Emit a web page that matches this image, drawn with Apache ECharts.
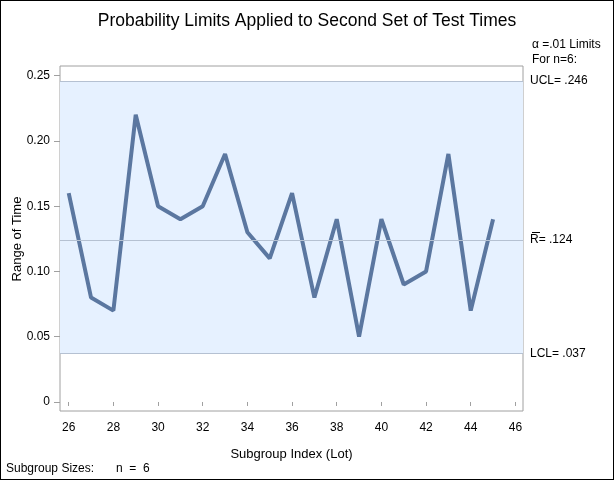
<!DOCTYPE html>
<html><head><meta charset="utf-8">
<script src="https://cdn.jsdelivr.net/npm/echarts@6/dist/echarts.min.js"></script>
<style>html,body{margin:0;padding:0;background:#fff}#c{width:614px;height:480px;box-sizing:border-box;border:1px solid #000}</style>
</head><body><div id="c"></div>
<script>
const lots = [26,27,28,29,30,31,32,33,34,35,36,37,38,39,40,41,42,43,44,45];
const ranges = [0.16,0.08,0.07,0.22,0.15,0.14,0.15,0.19,0.13,0.11,0.16,0.08,0.14,0.05,0.14,0.09,0.10,0.19,0.07,0.14];
const xTicks = [26,28,30,32,34,36,38,40,42,44,46];
const yTicks = [0,0.05,0.10,0.15,0.20,0.25];
const limits = {ucl:0.246, center:0.124, lcl:0.037};
const yName = 'Range of Time';
const font = 'Liberation Sans, Arial, sans-serif';
const chart = echarts.init(document.getElementById('c'), null, {renderer:'canvas'});
chart.setOption({
  animation:false,
  title:{text:'Probability Limits Applied to Second Set of Test Times',left:'center',top:6,
    textStyle:{fontFamily:font,fontSize:17.5,fontWeight:'normal',color:'#000'}},
  grid:{left:59,right:90,top:65,bottom:68,show:true,borderColor:'#a0a0a0',borderWidth:1,
    backgroundColor:'transparent',containLabel:false,outerBoundsMode:'none'},
  xAxis:{type:'value',min:25.61,max:46.34,
    name:'Subgroup Index (Lot)',nameLocation:'middle',nameGap:37,
    nameTextStyle:{fontFamily:font,fontSize:13,color:'#000'},
    axisLine:{show:false},
    axisTick:{show:true,length:4,lineStyle:{color:'#a0a0a0'},customValues:xTicks},
    axisLabel:{fontFamily:font,fontSize:12,color:'#000',margin:11,customValues:xTicks},
    splitLine:{show:false}},
  yAxis:{type:'value',min:-0.0069,max:0.2574,
    axisLine:{show:false},
    axisTick:{show:true,length:6,lineStyle:{color:'#a0a0a0'},customValues:yTicks},
    axisLabel:{fontFamily:font,fontSize:12,color:'#000',margin:10,customValues:yTicks,
      formatter:v=>v===0?'0':v.toFixed(2)},
    splitLine:{show:false}},
  series:[{type:'line',data:lots.map((l,i)=>[l,ranges[i]]),symbol:'none',
    lineStyle:{color:'#5b77a0',width:4},
    markArea:{silent:true,itemStyle:{color:'#e6f1ff'},data:[[{yAxis:limits.lcl},{yAxis:limits.ucl}]]},
    markLine:{silent:true,symbol:'none',precision:3,lineStyle:{color:'#b5c1d2',width:1,type:'solid'},
      label:{position:'end',distance:7,fontFamily:font,fontSize:12,color:'#000'},
      data:[{yAxis:limits.ucl,label:{formatter:'UCL= .246'}},
            {yAxis:limits.center,label:{formatter:'R= .124'}},
            {yAxis:limits.lcl,label:{formatter:'LCL= .037'}}]},
    z:3}],
  graphic:[
    {type:'text',x:16,y:238,rotation:Math.PI/2,style:{text:yName,font:'13px '+font,fill:'#000',align:'center',verticalAlign:'middle'}},
    {type:'text',left:531,top:38,style:{text:'\u03b1 =.01 Limits',font:'12px '+font,fill:'#000'}},
    {type:'text',left:531,top:53,style:{text:'For n=6:',font:'12px '+font,fill:'#000'}},
    {type:'line',shape:{x1:531,y1:231.5,x2:539,y2:231.5},style:{stroke:'#000',lineWidth:1}},
    {type:'text',left:5,top:462,style:{text:'Subgroup Sizes:',font:'12px '+font,fill:'#000'}},
    {type:'text',left:115,top:462,style:{text:'n  =  6',font:'12px '+font,fill:'#000'}}
  ]
});
</script></body></html>
